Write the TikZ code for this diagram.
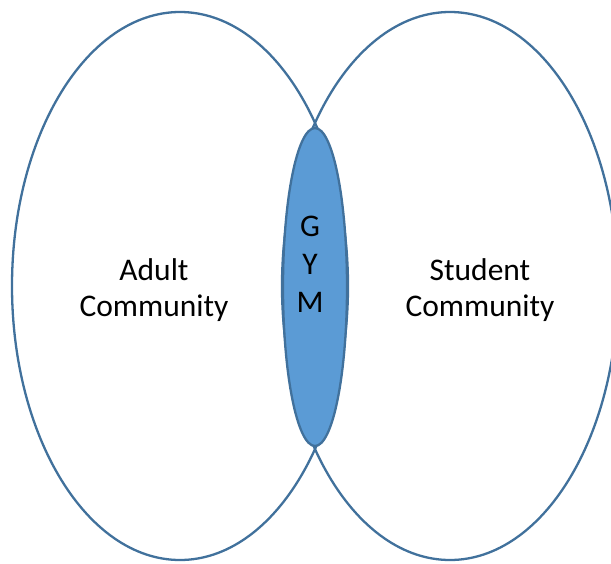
\documentclass[tikz,border=0pt]{standalone}
\usepackage{fontspec}
\setmainfont{Carlito}
\usetikzlibrary{shapes.geometric}
\definecolor{ringblue}{HTML}{41719C}
\definecolor{gymblue}{HTML}{5B9BD5}

\begin{document}
\begin{tikzpicture}[
  x=1pt, y=-1pt,
  ring/.style={ellipse, draw=ringblue, line width=2.3pt, inner sep=0pt, minimum width=336pt, minimum height=548pt},
  label/.style={font=\fontsize{31.5}{36}\selectfont, align=center, text=black},
  gymlabel/.style={font=\fontsize{31.5}{38}\selectfont, align=center, text=black}
]
\useasboundingbox (0,0) rectangle (611,563);
\clip (0,0) rectangle (611,563);

% the two communities
\node[ring] (adult) at (180,286) {};
\node[ring] (student) at (450,286) {};

% overlap
\node[ellipse, draw=ringblue, fill=gymblue, line width=2.3pt, inner sep=0pt,
      minimum width=64pt, minimum height=318pt] (gym) at (315,287) {};

% Labels
\node[label] (adulttext) at (154,290) {Adult\\Community};
\node[label] (studenttext) at (480,290) {Student\\Community};
\node[gymlabel] (gymtext) at (310,264) {G\\Y\\M};
\end{tikzpicture}
\end{document}
